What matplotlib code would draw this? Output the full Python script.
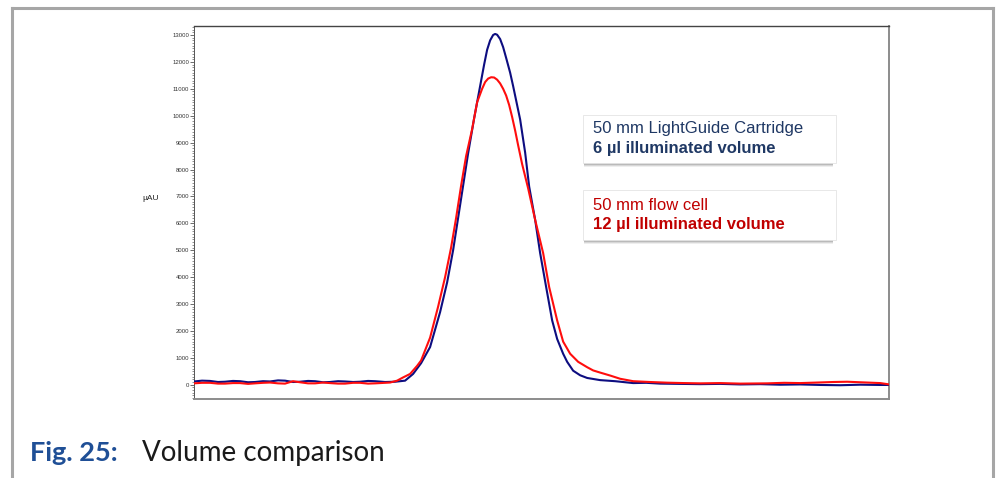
import matplotlib
matplotlib.use("Agg")
import matplotlib.pyplot as plt
from matplotlib.patches import Rectangle
from matplotlib.lines import Line2D
from matplotlib.ticker import MultipleLocator

# ---- data (time in min, signal in µAU) ----
blue_t = [0.00, 0.08, 0.16, 0.24, 0.31, 0.39, 0.46, 0.54, 0.61, 0.69, 0.76, 0.84, 0.91, 0.99,
          1.06, 1.14, 1.21, 1.29, 1.36, 1.44, 1.51, 1.59, 1.66, 1.74, 1.81, 1.91,
          2.01, 2.11, 2.19, 2.27, 2.36, 2.46, 2.53, 2.59, 2.64, 2.69, 2.74, 2.80, 2.86, 2.90,
          2.93, 2.96, 2.99, 3.01, 3.03, 3.06, 3.09, 3.12, 3.16, 3.19, 3.26, 3.31, 3.35, 3.41,
          3.46, 3.52, 3.58, 3.63, 3.69, 3.73, 3.79, 3.86, 3.93, 4.06, 4.21, 4.39, 4.52, 4.66,
          4.86, 5.06, 5.26, 5.46, 5.66, 5.86, 6.06, 6.26, 6.46, 6.66, 6.86, 6.95]
blue_v = [120, 150, 140, 100, 110, 140, 130, 90, 100, 130, 120, 160, 150, 100,
          110, 140, 130, 90, 100, 130, 120, 100, 110, 140, 130, 100,
          110, 150, 400, 800, 1400, 2700, 3800, 5000, 6200, 7400, 8600, 9900, 11100, 11900,
          12450, 12800, 13000, 13040, 13010, 12850, 12550, 12150, 11600, 11100, 9860, 8630, 7370, 6130,
          4890, 3630, 2390, 1700, 1150, 850, 520, 350, 250, 170, 130, 60, 70, 40,
          30, 20, 30, 10, 20, 0, 10, -10, -20, 0, -10, -10]

red_t = [0.00, 0.08, 0.16, 0.24, 0.31, 0.39, 0.46, 0.54, 0.61, 0.69, 0.76, 0.84, 0.91, 0.99,
         1.06, 1.14, 1.21, 1.29, 1.36, 1.44, 1.51, 1.59, 1.66, 1.74, 1.81, 1.96,
         2.03, 2.09, 2.16, 2.23, 2.27, 2.36, 2.44, 2.51, 2.57, 2.62, 2.67, 2.72, 2.78, 2.83,
         2.88, 2.91, 2.94, 2.97, 3.00, 3.03, 3.06, 3.09, 3.12, 3.15, 3.18, 3.21, 3.24, 3.28,
         3.34, 3.41, 3.49, 3.55, 3.63, 3.69, 3.76, 3.84, 3.93, 3.99, 4.06, 4.16, 4.26, 4.39,
         4.56, 4.73, 4.90, 5.06, 5.26, 5.46, 5.73, 5.90, 6.06, 6.23, 6.39, 6.53, 6.66, 6.86, 6.95]
red_v = [50, 70, 70, 40, 40, 60, 60, 30, 50, 70, 80, 50, 40, 130,
         90, 50, 50, 80, 60, 40, 40, 70, 70, 40, 50, 80,
         150, 270, 400, 700, 900, 1750, 2900, 4000, 5100, 6200, 7400, 8500, 9500, 10500,
         11000, 11250, 11380, 11430, 11420, 11340, 11200, 11000, 10750, 10400, 9950, 9450, 8900, 8200,
         7300, 6130, 4890, 3630, 2390, 1600, 1150, 850, 650, 530, 450, 340, 220, 130,
         100, 75, 60, 50, 60, 40, 50, 70, 60, 80, 100, 110, 90, 60, 10]

y_ticks = [0, 1000, 2000, 3000, 4000, 5000, 6000, 7000, 8000, 9000, 10000, 11000, 12000, 13000]
y_label = "µAU"
legend_blue = ["50 mm LightGuide Cartridge", "6 µl illuminated volume"]
legend_red = ["50 mm flow cell", "12 µl illuminated volume"]
caption_num = "Fig. 25:"
caption_txt = "Volume comparison"

W, H = 999, 478
fig = plt.figure(figsize=(W / 100, H / 100), dpi=100)
fig.patch.set_facecolor("white")


def fx(x):
    return x / W


def fy(y):
    return 1 - y / H


# outer frame
frame_c = "#a6a6a6"
for xs, ys in [([12, 993], [8, 8]), ([12, 12], [8, 478]), ([993, 993], [8, 478])]:
    fig.add_artist(Line2D([fx(v) for v in xs], [fy(v) for v in ys], color=frame_c, lw=2.2,
                          transform=fig.transFigure))

# axes
ax = fig.add_axes([fx(194), fy(399.3), (889.3 - 194) / W, (399.3 - 26) / H])
ax.plot(blue_t, blue_v, color="#0d0d80", lw=1.5, zorder=3)
ax.plot(red_t, red_v, color="#ff0d0d", lw=1.5, zorder=4)
ax.set_xlim(0, 6.95)
ax.set_ylim(-543, 13335)
ax.set_xticks([])
ax.set_yticks(y_ticks)
ax.set_yticklabels([str(v) for v in y_ticks], fontsize=4.3, color="#333333",
                   family="Liberation Sans")
ax.yaxis.set_minor_locator(MultipleLocator(100))
ax.tick_params(axis="y", which="major", direction="out", length=3, width=0.6,
               color="#555555", pad=0.5)
ax.tick_params(axis="y", which="minor", direction="out", length=1.3, width=0.5,
               color="#666666")
ax.spines["left"].set_color("#555555")
ax.spines["left"].set_linewidth(0.7)
ax.spines["top"].set_color("#444444")
ax.spines["top"].set_linewidth(1.0)
ax.spines["right"].set_color("#8c8c8c")
ax.spines["right"].set_linewidth(1.4)
ax.spines["bottom"].set_color("#8c8c8c")
ax.spines["bottom"].set_linewidth(1.4)

fig.text(fx(151), fy(198), y_label, fontsize=6, family="Liberation Sans", color="#222222",
         ha="center", va="center")


# legend boxes
def box(x0, y0, x1, y1):
    # shadow
    for i, a in enumerate([0.10, 0.16, 0.24, 0.30]):
        off = 4 - i
        fig.add_artist(Rectangle((fx(x0 + 1), fy(y1 + off)), (x1 - x0 - 4) / W, (off + 1) / H,
                                 transform=fig.transFigure, facecolor="#606060", alpha=a,
                                 edgecolor="none", zorder=5))
    fig.add_artist(Rectangle((fx(x0), fy(y1)), (x1 - x0) / W, (y1 - y0) / H,
                             transform=fig.transFigure, facecolor="white",
                             edgecolor="#e4e4e4", lw=0.6, zorder=6))


box(583, 115, 836, 163)
box(583, 190, 836, 240)

fs = 12
fig.text(fx(593), fy(133), legend_blue[0], fontsize=fs, family="Liberation Sans",
         color="#1f3864", zorder=7)
fig.text(fx(593), fy(153), legend_blue[1], fontsize=fs, family="Liberation Sans",
         weight="bold", color="#1f3864", zorder=7)
fig.text(fx(593), fy(210), legend_red[0], fontsize=fs, family="Liberation Sans",
         color="#c00000", zorder=7)
fig.text(fx(593), fy(229), legend_red[1], fontsize=fs, family="Liberation Sans",
         weight="bold", color="#c00000", zorder=7)

# caption
fig.text(fx(30), fy(461), caption_num, fontsize=19.5, family="Lato", weight="bold",
         color="#1f4f96", va="baseline")
fig.text(fx(142), fy(461), caption_txt, fontsize=20, family="Lato", color="#1a1a1a",
         va="baseline")

fig.savefig("out.png", dpi=100, facecolor="white")
